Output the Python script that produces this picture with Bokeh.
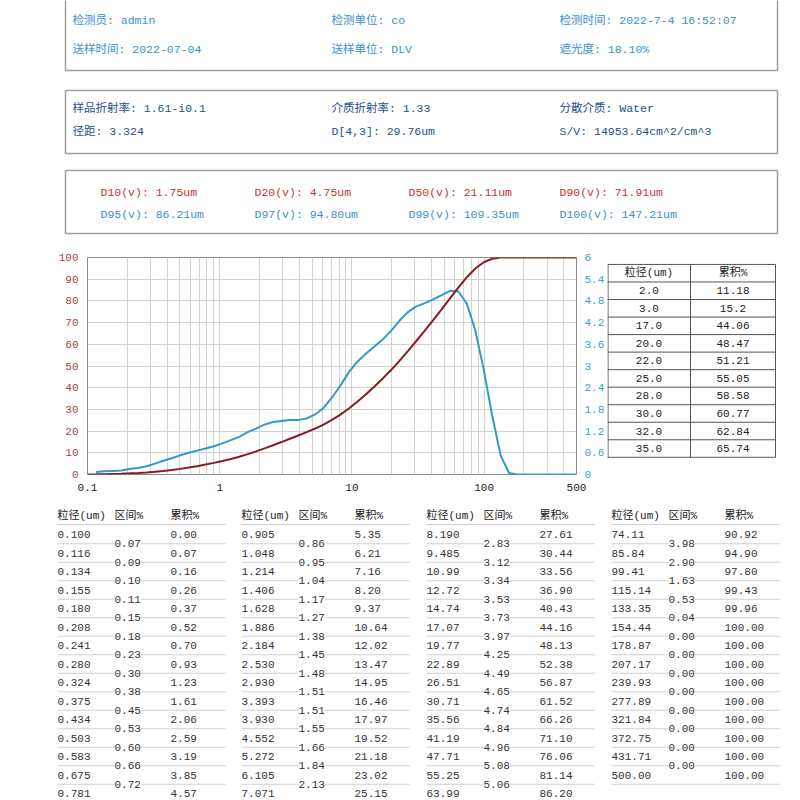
import numpy as np
from bokeh.plotting import figure
from bokeh.models import Range1d, LinearAxis, FixedTicker, CustomJSTickFormatter
from bokeh.layouts import column, row
from bokeh.core.properties import value
from bokeh.embed import file_html
from bokeh.resources import INLINE

# ---------------- data ----------------
size_labels = ["0.100", "0.116", "0.134", "0.155", "0.180", "0.208", "0.241", "0.280", "0.324", "0.375",
               "0.434", "0.503", "0.583", "0.675", "0.781",
               "0.905", "1.048", "1.214", "1.406", "1.628", "1.886", "2.184", "2.530", "2.930", "3.393",
               "3.930", "4.552", "5.272", "6.105", "7.071",
               "8.190", "9.485", "10.99", "12.72", "14.74", "17.07", "19.77", "22.89", "26.51", "30.71",
               "35.56", "41.19", "47.71", "55.25", "63.99",
               "74.11", "85.84", "99.41", "115.14", "133.35", "154.44", "178.87", "207.17", "239.93", "277.89",
               "321.84", "372.75", "431.71", "500.00"]
cumulative = [0.00, 0.07, 0.16, 0.26, 0.37, 0.52, 0.70, 0.93, 1.23, 1.61, 2.06, 2.59, 3.19, 3.85, 4.57,
              5.35, 6.21, 7.16, 8.20, 9.37, 10.64, 12.02, 13.47, 14.95, 16.46, 17.97, 19.52, 21.18, 23.02, 25.15,
              27.61, 30.44, 33.56, 36.90, 40.43, 44.16, 48.13, 52.38, 56.87, 61.52, 66.26, 71.10, 76.06, 81.14, 86.20,
              90.92, 94.90, 97.80, 99.43, 99.96, 100.00, 100.00, 100.00, 100.00, 100.00, 100.00, 100.00, 100.00, 100.00]
interval_cols = [
    ["0.07", "0.09", "0.10", "0.11", "0.15", "0.18", "0.23", "0.30", "0.38", "0.45", "0.53", "0.60", "0.66", "0.72"],
    ["0.86", "0.95", "1.04", "1.17", "1.27", "1.38", "1.45", "1.48", "1.51", "1.51", "1.55", "1.66", "1.84", "2.13"],
    ["2.83", "3.12", "3.34", "3.53", "3.73", "3.97", "4.25", "4.49", "4.65", "4.74", "4.84", "4.96", "5.08", "5.06"],
    ["3.98", "2.90", "1.63", "0.53", "0.04", "0.00", "0.00", "0.00", "0.00", "0.00", "0.00", "0.00", "0.00"],
]
col_splits = [(0, 15), (15, 30), (30, 45), (45, 59)]

side_sizes = ["2.0", "3.0", "17.0", "20.0", "22.0", "25.0", "28.0", "30.0", "32.0", "35.0"]
side_cum = ["11.18", "15.2", "44.06", "48.47", "51.21", "55.05", "58.58", "60.77", "62.84", "65.74"]

info_box1 = [["检测员: admin", "检测单位: co", "检测时间: 2022-7-4 16:52:07"],
             ["送样时间: 2022-07-04", "送样单位: DLV", "遮光度: 18.10%"]]
info_box2 = [["样品折射率: 1.61-i0.1", "介质折射率: 1.33", "分散介质: Water"],
             ["径距: 3.324", "D[4,3]: 29.76um", "S/V: 14953.64cm^2/cm^3"]]
d_row1 = ["D10(v): 1.75um", "D20(v): 4.75um", "D50(v): 21.11um", "D90(v): 71.91um"]
d_row2 = ["D95(v): 86.21um", "D97(v): 94.80um", "D99(v): 109.35um", "D100(v): 147.21um"]

x_major = [0.1, 1, 10, 100, 500]
x_minor = [0.2, 0.3, 0.4, 0.5, 0.6, 0.7, 0.8, 0.9, 2, 3, 4, 5, 6, 7, 8, 9,
           20, 30, 40, 50, 60, 70, 80, 90, 200, 300, 400]
left_ticks = [0, 10, 20, 30, 40, 50, 60, 70, 80, 90, 100]
right_ticks = [0, 0.6, 1.2, 1.8, 2.4, 3, 3.6, 4.2, 4.8, 5.4, 6]

sizes = [float(s) for s in size_labels]
density = list(np.round(np.diff(cumulative), 2))
density_x = sizes[1:]

FONT = value("Liberation Mono, Noto Sans CJK SC")
BLUE_TXT = "#3a8fd2"
NAVY_TXT = "#24508c"
RED_TXT = "#c8323a"
RED_LINE = "#8c1a22"
BLUE_LINE = "#2f9cc4"


def blank(fig):
    fig.grid.visible = False
    fig.outline_line_color = None
    return fig


# ---------------- header boxes ----------------
hdr = blank(figure(width=800, height=248, x_range=Range1d(0, 800), y_range=Range1d(248, 0),
                   output_backend="svg", toolbar_location=None, min_border=0,
                   x_axis_location=None, y_axis_location=None))
hdr.quad(left=[65, 65, 65], right=[777, 777, 777], top=[-10, 90, 170], bottom=[70, 153, 233],
         fill_color=None, line_color="#a0a0a0", line_width=1.5)
cols3 = [72, 331, 559]
for r, yy in enumerate([20, 49]):
    hdr.text(x=cols3, y=[yy] * 3, text=info_box1[r], text_font=FONT, text_font_size="11.5px",
             text_color=BLUE_TXT, text_baseline="middle", text_align="left")
for r, yy in enumerate([108, 131]):
    hdr.text(x=cols3, y=[yy] * 3, text=info_box2[r], text_font=FONT, text_font_size="11.5px",
             text_color=NAVY_TXT, text_baseline="middle", text_align="left")
cols4 = [100, 254, 408, 559]
hdr.text(x=cols4, y=[192] * 4, text=d_row1, text_font=FONT, text_font_size="11.5px",
         text_color=RED_TXT, text_baseline="middle", text_align="left")
hdr.text(x=cols4, y=[214] * 4, text=d_row2, text_font=FONT, text_font_size="11.5px",
         text_color=BLUE_TXT, text_baseline="middle", text_align="left")

# ---------------- main chart ----------------
p = figure(width=607, height=250, x_axis_type="log", x_range=Range1d(0.1, 500), y_range=Range1d(0, 100),
           output_backend="svg", toolbar_location=None,
           min_border_left=87, min_border_right=27, min_border_top=9, min_border_bottom=24)
p.extra_y_ranges = {"dens": Range1d(0, 6)}
p.outline_line_color = "#8a8a8a"
p.outline_line_width = 1

xt = FixedTicker(ticks=x_major, minor_ticks=x_minor)
p.xaxis.ticker = xt
p.xgrid.ticker = xt
p.xaxis.formatter = CustomJSTickFormatter(code="return String(tick);")
p.xgrid.grid_line_color = "#d2d2d2"
p.xgrid.minor_grid_line_color = "#d2d2d2"
yt = FixedTicker(ticks=left_ticks)
p.yaxis.ticker = yt
p.ygrid.ticker = yt
p.ygrid.grid_line_color = "#d2d2d2"

right_axis = LinearAxis(y_range_name="dens", ticker=FixedTicker(ticks=right_ticks),
                        formatter=CustomJSTickFormatter(code="return String(Math.round(tick*10)/10);"))
p.add_layout(right_axis, "right")

for ax in p.axis:
    ax.major_tick_line_color = None
    ax.minor_tick_line_color = None
    ax.axis_line_color = None
    ax.major_label_text_font = "Liberation Mono"
    ax.major_label_text_font_size = "11px"
    ax.major_label_standoff = 3
p.xaxis.major_label_text_color = "#222222"
p.yaxis[0].major_label_text_color = "#a04848"
right_axis.major_label_text_color = "#3aa0cc"
right_axis.major_label_standoff = 2

p.line(density_x, density, y_range_name="dens", line_color=BLUE_LINE, line_width=2)
p.line(sizes, cumulative, line_color=RED_LINE, line_width=2)

# ---------------- side table ----------------
tb = blank(figure(width=193, height=250, x_range=Range1d(607, 800), y_range=Range1d(498, 248),
                  output_backend="svg", toolbar_location=None, min_border=0,
                  x_axis_location=None, y_axis_location=None))
t_top, t_h, t_left, t_mid, t_right = 256, 20.2, 607, 690, 775
n_rows = len(side_sizes) + 1
ys = [t_top + i * t_h for i in range(n_rows + 1)]
tb.segment(x0=[t_left] * len(ys), x1=[t_right] * len(ys), y0=ys, y1=ys, line_color="#555555", line_width=1)
tb.segment(x0=[t_left + 0.5, t_mid, t_right], x1=[t_left + 0.5, t_mid, t_right], y0=[ys[0]] * 3, y1=[ys[-1]] * 3,
           line_color="#555555", line_width=1)
centers = [t_top + (i + 0.5) * t_h for i in range(n_rows)]
tb.text(x=[(t_left + t_mid) / 2] * n_rows, y=centers, text=["粒径(um)"] + side_sizes, text_font=FONT,
        text_font_size="11px", text_color="#222222", text_baseline="middle", text_align="center")
tb.text(x=[(t_mid + t_right) / 2] * n_rows, y=centers, text=["累积%"] + side_cum, text_font=FONT,
        text_font_size="11px", text_color="#222222", text_baseline="middle", text_align="center")

# ---------------- bottom tables ----------------
bt = blank(figure(width=800, height=302, x_range=Range1d(0, 800), y_range=Range1d(800, 498),
                  output_backend="svg", toolbar_location=None, min_border=0,
                  x_axis_location=None, y_axis_location=None))
bases = [57, 241, 426, 611]
hdr_y, row0, step = 515, 534, 18.5
for c, (a, b) in enumerate(col_splits):
    bx = bases[c]
    labels = size_labels[a:b]
    cums = ["%.2f" % v for v in cumulative[a:b]]
    n = len(labels)
    line_ys = [hdr_y + 9] + [row0 + i * step + step / 2 for i in range(n)]
    bt.segment(x0=[bx] * len(line_ys), x1=[bx + 168] * len(line_ys), y0=line_ys, y1=line_ys,
               line_color="#cfcfcf", line_width=1)
    bt.text(x=[bx, bx + 57, bx + 113], y=[hdr_y] * 3, text=["粒径(um)", "区间%", "累积%"], text_font=FONT,
            text_font_size="11px", text_color="#222222", text_baseline="middle", text_align="left")
    rys = [row0 + i * step for i in range(n)]
    bt.text(x=[bx] * n, y=rys, text=labels, text_font=FONT, text_font_size="11px",
            text_color="#333333", text_baseline="middle", text_align="left")
    bt.text(x=[bx + 113] * n, y=rys, text=cums, text_font=FONT, text_font_size="11px",
            text_color="#333333", text_baseline="middle", text_align="left")
    iv = interval_cols[c]
    bt.text(x=[bx + 57] * len(iv), y=[row0 + i * step + step / 2 for i in range(len(iv))], text=iv,
            text_font=FONT, text_font_size="11px", text_color="#333333", text_baseline="middle",
            text_align="left", background_fill_color="white")

layout = column(hdr, row(p, tb, spacing=0), bt, spacing=0)
open("out.html", "w").write(file_html(layout, INLINE))
